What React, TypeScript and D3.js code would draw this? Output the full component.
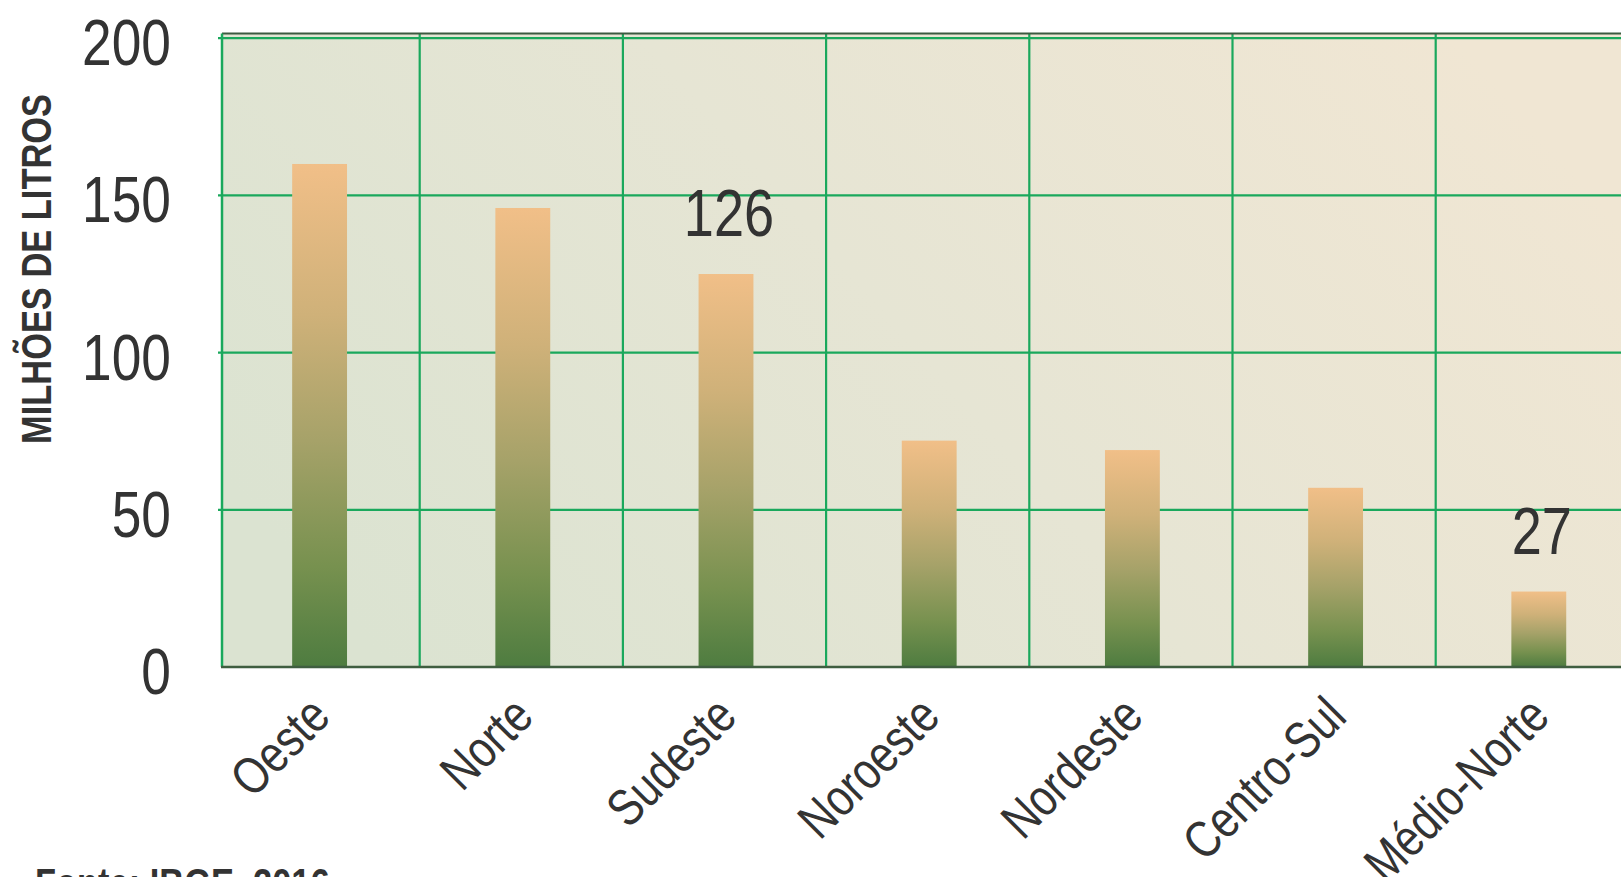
import React, { useRef, useEffect } from 'react';
import * as d3 from 'd3';

const regions = ['Oeste', 'Norte', 'Sudeste', 'Noroeste', 'Nordeste', 'Centro-Sul', 'Médio-Norte'];
const volumes = [160, 146, 125, 72, 69, 57, 24];
const valueLabels = [null, null, '126', null, null, null, '27'];
const yTicks = [0, 50, 100, 150, 200];
const yTitle = 'MILHÕES DE LITROS';
const source = 'Fonte: IBGE, 2016';

const FONT = '"Liberation Sans", Arial, sans-serif';
// the original type is a condensed face, so squeeze Liberation Sans horizontally
const NARROW = 'scale(0.82, 1)';

const App = () => {
    const ref = useRef(null);
    const width = 1621;
    const height = 877;

    useEffect(() => {
        const svg = d3.select(ref.current)
            .attr('width', width)
            .attr('height', height);

        svg.selectAll('*').remove();

        const plotLeft = 222;
        const plotTop = 33.5;
        const plotBottom = 667;
        const step = 203.2;

        const x = d3.scaleBand()
            .domain(regions)
            .range([plotLeft - 4, plotLeft - 4 + step * regions.length])
            .paddingInner(0.73)
            .paddingOuter(0.365);

        const y = d3.scaleLinear()
            .domain([0, 201.5])
            .range([plotBottom, plotTop]);

        const defs = svg.append('defs');

        const bg = defs.append('linearGradient')
            .attr('id', 'bg')
            .attr('x1', '0').attr('y1', '0.7')
            .attr('x2', '1').attr('y2', '0.3');
        bg.append('stop').attr('offset', '0%').attr('stop-color', '#dbe3d1');
        bg.append('stop').attr('offset', '50%').attr('stop-color', '#e6e5d4');
        bg.append('stop').attr('offset', '100%').attr('stop-color', '#f0e6d3');

        const barGrad = defs.append('linearGradient')
            .attr('id', 'bar')
            .attr('x1', '0').attr('y1', '0')
            .attr('x2', '0').attr('y2', '1');
        barGrad.append('stop').attr('offset', '0%').attr('stop-color', '#f1bf88');
        barGrad.append('stop').attr('offset', '30%').attr('stop-color', '#cfb179');
        barGrad.append('stop').attr('offset', '55%').attr('stop-color', '#a6a269');
        barGrad.append('stop').attr('offset', '80%').attr('stop-color', '#77914f');
        barGrad.append('stop').attr('offset', '100%').attr('stop-color', '#4e7c40');

        // plot background
        svg.append('rect')
            .attr('x', plotLeft)
            .attr('y', plotTop)
            .attr('width', width - plotLeft)
            .attr('height', plotBottom - plotTop)
            .attr('fill', 'url(#bg)');

        // horizontal grid
        svg.append('g')
            .selectAll('line')
            .data(yTicks.filter((t) => t > 0))
            .enter()
            .append('line')
            .attr('x1', plotLeft - 4)
            .attr('x2', width)
            .attr('y1', (d) => y(d))
            .attr('y2', (d) => y(d))
            .attr('stroke', '#1aa85c')
            .attr('stroke-width', 2.2);

        // vertical grid at band edges
        svg.append('g')
            .selectAll('line')
            .data(regions.slice(1))
            .enter()
            .append('line')
            .attr('x1', (d) => x(d) - x.step() * x.paddingInner() / 2 - 1.5)
            .attr('x2', (d) => x(d) - x.step() * x.paddingInner() / 2 - 1.5)
            .attr('y1', plotTop)
            .attr('y2', plotBottom)
            .attr('stroke', '#1aa85c')
            .attr('stroke-width', 2.2);

        // bars
        svg.append('g')
            .selectAll('rect')
            .data(regions)
            .enter()
            .append('rect')
            .attr('x', (d) => x(d))
            .attr('width', x.bandwidth())
            .attr('y', (d, i) => y(volumes[i]))
            .attr('height', (d, i) => plotBottom - y(volumes[i]))
            .attr('fill', 'url(#bar)');

        // frame
        svg.append('line')
            .attr('x1', plotLeft).attr('x2', width)
            .attr('y1', plotTop).attr('y2', plotTop)
            .attr('stroke', '#3c5a40').attr('stroke-width', 2);
        svg.append('line')
            .attr('x1', plotLeft).attr('x2', plotLeft)
            .attr('y1', plotTop).attr('y2', plotBottom)
            .attr('stroke', '#1aa85c').attr('stroke-width', 2.5);
        svg.append('line')
            .attr('x1', plotLeft - 1).attr('x2', width)
            .attr('y1', plotBottom).attr('y2', plotBottom)
            .attr('stroke', '#3f5e40').attr('stroke-width', 2.5);

        // y tick labels
        svg.append('g')
            .selectAll('text')
            .data(yTicks)
            .enter()
            .append('text')
            .attr('transform', (d) => `translate(171, ${y(d) + 27}) ${NARROW}`)
            .attr('text-anchor', 'end')
            .style('font-family', FONT)
            .style('font-size', '65px')
            .attr('fill', '#333333')
            .text((d) => d);

        // y title
        svg.append('text')
            .attr('transform', `translate(50.5, 269) rotate(-90) ${NARROW}`)
            .attr('text-anchor', 'middle')
            .style('font-family', FONT)
            .style('font-weight', 'bold')
            .style('font-size', '42px')
            .attr('fill', '#333333')
            .text(yTitle);

        // x labels
        svg.append('g')
            .selectAll('text')
            .data(regions)
            .enter()
            .append('text')
            .attr('transform', (d) => `translate(${x(d) + x.bandwidth() / 2 + 13}, ${plotBottom + 52}) rotate(-45) ${NARROW}`)
            .attr('text-anchor', 'end')
            .style('font-family', FONT)
            .style('font-size', '52px')
            .attr('fill', '#333333')
            .text((d) => d);

        // value labels
        svg.append('g')
            .selectAll('text')
            .data(regions.filter((d, i) => valueLabels[i]))
            .enter()
            .append('text')
            .attr('transform', (d) => `translate(${x(d) + x.bandwidth() / 2 + 3}, ${y(volumes[regions.indexOf(d)]) - 38}) ${NARROW}`)
            .attr('text-anchor', 'middle')
            .style('font-family', FONT)
            .style('font-size', '66px')
            .attr('fill', '#333333')
            .text((d) => valueLabels[regions.indexOf(d)]);

        // source
        svg.append('text')
            .attr('transform', `translate(35, 898) ${NARROW}`)
            .style('font-family', FONT)
            .style('font-weight', 'bold')
            .style('font-size', '42px')
            .attr('fill', '#333333')
            .text(source);
    }, []);

    return (
        <div style={{ position: 'absolute', left: 0, top: 0 }}>
            <svg ref={ref} style={{ display: 'block', background: 'white' }}>
            </svg>
        </div>
    );
};

export default App;
